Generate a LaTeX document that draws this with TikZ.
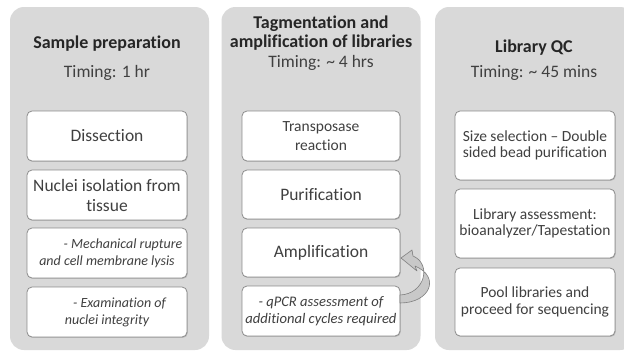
\documentclass[tikz,border=0pt]{standalone}
\usepackage{fontspec}
\setmainfont{Carlito}[Ligatures=NoCommon]
\usetikzlibrary{shadows}
\definecolor{panelc}{HTML}{D9D9D9}
\definecolor{boxline}{HTML}{8C8C8C}
\definecolor{txt}{HTML}{404040}
\definecolor{ttl}{HTML}{262626}
\definecolor{arrfill}{HTML}{C8C8C8}
\definecolor{arrline}{HTML}{7F7F7F}
\newcommand{\fTitle}{\fontsize{18}{19.5}\selectfont\bfseries}
\newcommand{\fTime}{\fontsize{17.5}{20}\selectfont}
\newcommand{\fBig}{\fontsize{17.5}{20}\selectfont}
\newcommand{\fMid}{\fontsize{15.5}{19}\selectfont}
\newcommand{\fSm}{\fontsize{15.5}{16.5}\selectfont}
\newcommand{\fIt}{\fontsize{14}{17}\selectfont\itshape}
\newcommand{\fItq}{\fontsize{14.6}{17}\selectfont\itshape}
\begin{document}
\begin{tikzpicture}[x=1pt,y=-1pt,
  panel/.style={fill=panelc, rounded corners=14pt, inner sep=0pt,
    minimum width=199pt, minimum height=343pt},
  stepbox/.style={draw=boxline, line width=0.8pt, fill=white, rounded corners=5pt,
    minimum width=160pt, inner sep=0pt, align=center, text=txt,
    drop shadow={shadow xshift=0.8pt, shadow yshift=-0.9pt, opacity=0.35}},
  titletext/.style={align=center, text=ttl, font=\fTitle, inner sep=0pt},
  timetext/.style={align=center, text=txt, font=\fTime, inner sep=0pt}]
\clip (0,0) rectangle (624,351);
\fill[white] (0,0) rectangle (624,351);
% panels
\node[panel] (p1) at (109.5,178.5) {};
\node[panel] (p2) at (321,178.5) {};
\node[panel] (p3) at (534.5,178.5) {};
% titles
\node[titletext] (t1) at (107,44) {Sample preparation};
\node[timetext] (tm1) at (107,73) {Timing: 1 hr};
\node[titletext] (t2) at (321,33) {Tagmentation and\\amplification of libraries};
\node[timetext] (tm2) at (321,63) {Timing: \textasciitilde{} 4 hrs};
\node[titletext] (t3) at (534,48) {Library QC};
\node[timetext] (tm3) at (534,73) {Timing: \textasciitilde{} 45 mins};
% column 1
\node[stepbox, minimum height=50pt, font=\fBig] (d) at (107,136) {Dissection};
\node[stepbox, minimum height=50pt, font=\fBig] (n) at (107,195) {Nuclei isolation from\\tissue};
\node[stepbox, minimum height=50pt, font=\fIt] (m) at (107,253) {\hspace*{32pt}- Mechanical rupture\\and cell membrane lysis};
\node[stepbox, minimum height=50pt, font=\fIt] (e) at (107,312) {\hspace*{25pt}- Examination of\\nuclei integrity};
% column 2
\node[stepbox, minimum width=158pt, minimum height=50pt, font=\fMid] (t) at (321,136) {Transposase\\reaction};
\node[stepbox, minimum width=158pt, minimum height=49pt, font=\fBig] (pu) at (321,194.5) {Purification};
\node[stepbox, minimum width=158pt, minimum height=49pt, font=\fBig] (am) at (321,252.5) {Amplification};
\node[stepbox, minimum width=158pt, minimum height=50pt, font=\fItq] (q) at (321,311) {- qPCR assessment of\\additional cycles required};
% column 3
\node[stepbox, minimum height=69pt, font=\fSm] (s) at (535,145.5) {Size selection -- Double\\sided bead purification};
\node[stepbox, minimum height=69pt, font=\fSm] (l) at (535,223.5) {Library assessment:\\bioanalyzer/Tapestation};
\node[stepbox, minimum height=68pt, font=\fSm] (po) at (535,302) {Pool libraries and\\proceed for sequencing};
% curved block arrow from qPCR back to Amplification
\filldraw[fill=arrfill, draw=arrline, line width=0.6pt, line join=round]
  (400,303) .. controls (430,303) and (441,277) .. (415,266)
  -- (417,271) -- (401,258) -- (412,250) -- (413,256)
  .. controls (432,264) and (425,294) .. (400,295) -- cycle;
\end{tikzpicture}
\end{document}
